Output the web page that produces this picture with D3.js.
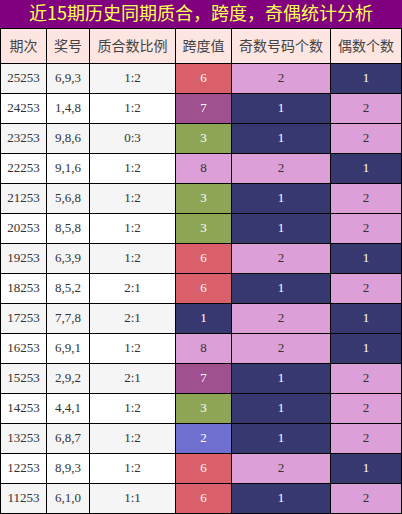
<!DOCTYPE html>
<html><head><meta charset="utf-8">
<script src="https://cdn.jsdelivr.net/npm/d3@7"></script>
<style>body{margin:0;background:#fff}</style>
</head><body><div id="chart"></div>
<script>
const title = '近15期历史同期质合，跨度，奇偶统计分析';
const headers = ['期次', '奖号', '质合数比例', '跨度值', '奇数号码个数', '偶数个数'];
const periods = ['25253','24253','23253','22253','21253','20253','19253','18253','17253','16253','15253','14253','13253','12253','11253'];
const numbers = ['6,9,3','1,4,8','9,8,6','9,1,6','5,6,8','8,5,8','6,3,9','8,5,2','7,7,8','6,9,1','2,9,2','4,4,1','6,8,7','8,9,3','6,1,0'];
const ratios = ['1:2','1:2','0:3','1:2','1:2','1:2','1:2','2:1','2:1','1:2','2:1','1:2','1:2','1:2','1:1'];
const spans = [6,7,3,8,3,3,6,6,1,8,7,3,2,6,6];
const odds = [2,1,1,2,1,1,2,1,2,2,1,1,1,2,1];
const evens = [1,2,2,1,2,2,1,2,1,1,2,2,2,1,2];

const colEdges = [0, 46, 89, 175, 231, 330, 401];
const W = 402, titleH = 28, headH = 35, rowH = 30;
const spanColor = {1:'#383870', 2:'#6f6fcf', 3:'#8fa556', 6:'#d9606a', 7:'#a0508f', 8:'#dd9fd7'};
const cntColor = {1:'#383870', 2:'#dd9fd7'};
const textOn = c => (c === '#dd9fd7' ? '#333' : '#fff');

const y = d3.scaleBand().domain(d3.range(periods.length))
  .range([titleH + headH, titleH + headH + rowH * periods.length]);

const svg = d3.select('#chart').append('svg').attr('width', W).attr('height', 514)
  .style('font-family', "'Liberation Serif', serif");

svg.append('rect').attr('width', W).attr('height', titleH).attr('fill', '#800080');
svg.append('text').attr('x', W / 2).attr('y', titleH / 2 + 1).attr('text-anchor', 'middle')
  .attr('dominant-baseline', 'middle').attr('fill', '#ffff55').attr('font-size', 18)
  .style('font-family', "'Noto Sans CJK SC', sans-serif").text(title);

function cell(x0, x1, y0, h, fill, txt, color, size, font) {
  svg.append('rect').attr('x', x0).attr('y', y0).attr('width', x1 - x0).attr('height', h)
    .attr('fill', fill).attr('stroke', '#000').attr('stroke-width', 1);
  const t = svg.append('text').attr('x', (x0 + x1) / 2).attr('y', y0 + h / 2 + 1)
    .attr('text-anchor', 'middle').attr('dominant-baseline', 'middle')
    .attr('fill', color).attr('font-size', size).text(txt);
  if (font) t.style('font-family', font);
}

headers.forEach((h, i) => cell(colEdges[i] + 0.5, colEdges[i + 1] + 0.5, titleH + 0.5, headH, '#fde5e1', h, '#444', 14, "'Noto Sans CJK SC', sans-serif"));

periods.forEach((p, r) => {
  const y0 = y(r) + 0.5, bg = r % 2 === 0 ? '#f5f5f5' : '#fff';
  const vals = [p, numbers[r], ratios[r]];
  vals.forEach((v, i) => cell(colEdges[i] + 0.5, colEdges[i + 1] + 0.5, y0, rowH, bg, v, '#333', 13));
  const sc = spanColor[spans[r]];
  cell(colEdges[3] + 0.5, colEdges[4] + 0.5, y0, rowH, sc, spans[r], textOn(sc), 13);
  const oc = cntColor[odds[r]];
  cell(colEdges[4] + 0.5, colEdges[5] + 0.5, y0, rowH, oc, odds[r], textOn(oc), 13);
  const ec = cntColor[evens[r]];
  cell(colEdges[5] + 0.5, colEdges[6] + 0.5, y0, rowH, ec, evens[r], textOn(ec), 13);
});
</script></body></html>
